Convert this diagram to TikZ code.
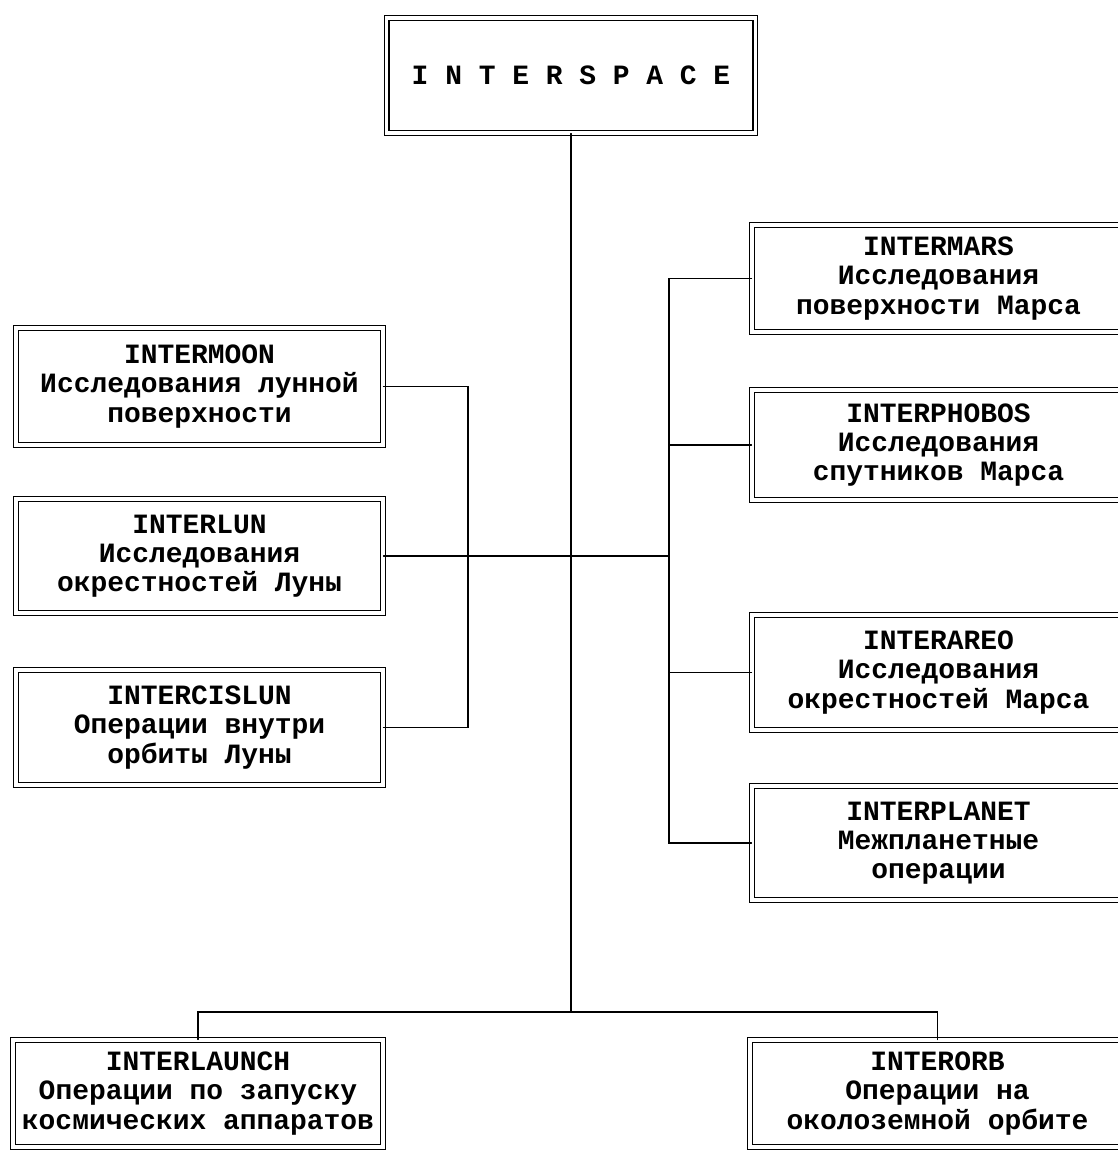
\documentclass[tikz,border=0pt]{standalone}
\usepackage{fontspec}
\newfontfamily\typewriter{Liberation Mono}
\usetikzlibrary{calc}

\begin{document}
\begin{tikzpicture}[x=0.02cm,y=-0.02cm,cap=round]
\tikzstyle{box}=[draw,double,line width=0.6pt,double distance=2.2pt,align=center,inner sep=0pt,font=\typewriter\bfseries\fontsize{15.9}{16.6}\selectfont]
\tikzstyle{link}=[line width=0.7pt]
\useasboundingbox (0,0) rectangle (1117,1153);
% top
\node[box,minimum width=7.38cm,minimum height=2.30cm] (space) at (571,75.5) {I N T E R S P A C E};
% left column
\node[box,minimum width=7.34cm,minimum height=2.34cm] (moon) at (199.5,386.5) {INTERMOON\\Исследования лунной\\поверхности};
\node[box,minimum width=7.34cm,minimum height=2.28cm] (lun) at (199.5,556) {INTERLUN\\Исследования\\окрестностей Луны};
\node[box,minimum width=7.34cm,minimum height=2.30cm] (cislun) at (199.5,727.5) {INTERCISLUN\\Операции внутри\\орбиты Луны};
% right column
\node[box,minimum width=7.46cm,minimum height=2.14cm] (mars) at (938.5,278.5) {INTERMARS\\Исследования\\поверхности Марса};
\node[box,minimum width=7.46cm,minimum height=2.20cm] (phobos) at (938.5,445) {INTERPHOBOS\\Исследования\\спутников Марса};
\node[box,minimum width=7.46cm,minimum height=2.30cm] (areo) at (938.5,672.5) {INTERAREO\\Исследования\\окрестностей Марса};
\node[box,minimum width=7.46cm,minimum height=2.28cm] (planet) at (938.5,843) {INTERPLANET\\Межпланетные\\операции};
% bottom row
\node[box,minimum width=7.40cm,minimum height=2.14cm] (launch) at (198,1093.5) {INTERLAUNCH\\Операции по запуску\\космических аппаратов};
\node[box,minimum width=7.50cm,minimum height=2.14cm] (orb) at (937.5,1093.5) {INTERORB\\Операции на\\околоземной орбите};
\coordinate (hubL) at (468,556);
\coordinate (hubR) at (669,556);
\coordinate (bar) at (570,1012);
\draw[link] (space.south) -- (space.south |- bar);
\draw[link] (launch.north) |- (bar) -| (orb.north);
\draw[link] (moon.east) -| (hubL) |- (cislun.east);
\draw[link] (lun.east) -- (hubR);
\draw[link] (mars.west) -| (hubR) |- (planet.west);
\foreach \n in {phobos,areo}
	\draw[link] (\n.west) -- (\n.west -| hubR);
\end{tikzpicture}
\end{document}
